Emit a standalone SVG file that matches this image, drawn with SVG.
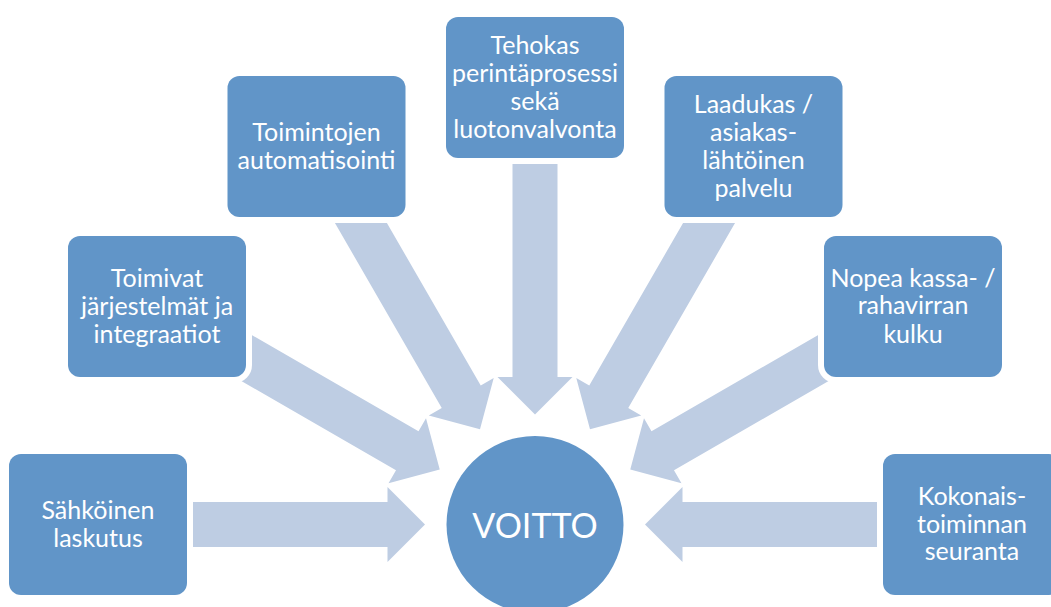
<svg xmlns="http://www.w3.org/2000/svg" width="1051" height="607" viewBox="0 0 1051 607">
<defs>
<style>
.arrow{fill:#BECDE3}
.box{fill:#6195C8;stroke:#FFFFFF;stroke-width:12;paint-order:stroke}
.lbl{font-family:Lato,"Liberation Sans",sans-serif;font-size:25px;fill:#FFFFFF;text-anchor:middle}
.big{font-family:Lato,"Liberation Sans",sans-serif;font-size:34px;fill:#FFFFFF;text-anchor:middle}
</style>
<polygon id="arr" points="0,0 -37.5,-37.5 -37.5,-22.5 -327,-22.5 -327,22.5 -37.5,22.5 -37.5,37.5"/>
</defs>
<rect width="1051" height="607" fill="#FFFFFF"/>
<g id="connectors">
<use href="#arr" class="arrow" transform="translate(535,524.5) rotate(0) translate(-110,0)"/>
<use href="#arr" class="arrow" transform="translate(535,524.5) rotate(30) translate(-110,0)"/>
<use href="#arr" class="arrow" transform="translate(535,524.5) rotate(60) translate(-110,0)"/>
<use href="#arr" class="arrow" transform="translate(535,524.5) rotate(90) translate(-110,0)"/>
<use href="#arr" class="arrow" transform="translate(535,524.5) rotate(120) translate(-110,0)"/>
<use href="#arr" class="arrow" transform="translate(535,524.5) rotate(150) translate(-110,0)"/>
<use href="#arr" class="arrow" transform="translate(535,524.5) rotate(180) translate(-110,0)"/>
</g>
<g id="voitto">
<circle cx="535" cy="524.5" r="88.5" fill="#6195C8"/>
<text class="big" x="535" y="538">VOITTO</text>
</g>
<g id="sahkoinen">
<rect class="box" x="9" y="454" width="178" height="141" rx="12"/>
<text class="lbl" x="98" y="519">Sähköinen</text>
<text class="lbl" x="98" y="546.5">laskutus</text>
</g>
<g id="toimivat">
<rect class="box" x="68" y="236" width="178" height="141" rx="12"/>
<text class="lbl" x="157" y="287">Toimivat</text>
<text class="lbl" x="157" y="314.5">järjestelmät ja</text>
<text class="lbl" x="157" y="342.5">integraatiot</text>
</g>
<g id="toimintojen">
<rect class="box" x="227.5" y="76" width="178" height="141" rx="12"/>
<text class="lbl" x="316.5" y="141">Toimintojen</text>
<text class="lbl" x="316.5" y="168.5">automatisointi</text>
</g>
<g id="tehokas">
<rect class="box" x="446" y="17" width="178" height="141" rx="12"/>
<text class="lbl" x="535" y="54">Tehokas</text>
<text class="lbl" x="535" y="82">perintäprosessi</text>
<text class="lbl" x="535" y="110">sekä</text>
<text class="lbl" x="535" y="138">luotonvalvonta</text>
</g>
<g id="laadukas">
<rect class="box" x="664.5" y="76" width="178" height="141" rx="12"/>
<text class="lbl" x="753.5" y="113">Laadukas /</text>
<text class="lbl" x="753.5" y="141">asiakas-</text>
<text class="lbl" x="753.5" y="169">lähtöinen</text>
<text class="lbl" x="753.5" y="197">palvelu</text>
</g>
<g id="nopea">
<rect class="box" x="824" y="236" width="178" height="141" rx="12"/>
<text class="lbl" x="913" y="286.5">Nopea kassa- /</text>
<text class="lbl" x="913" y="314">rahavirran</text>
<text class="lbl" x="913" y="342.5">kulku</text>
</g>
<g id="kokonais">
<rect class="box" x="883" y="454" width="178" height="141" rx="12"/>
<text class="lbl" x="972" y="505">Kokonais-</text>
<text class="lbl" x="972" y="532.5">toiminnan</text>
<text class="lbl" x="972" y="560">seuranta</text>
</g>
</svg>
